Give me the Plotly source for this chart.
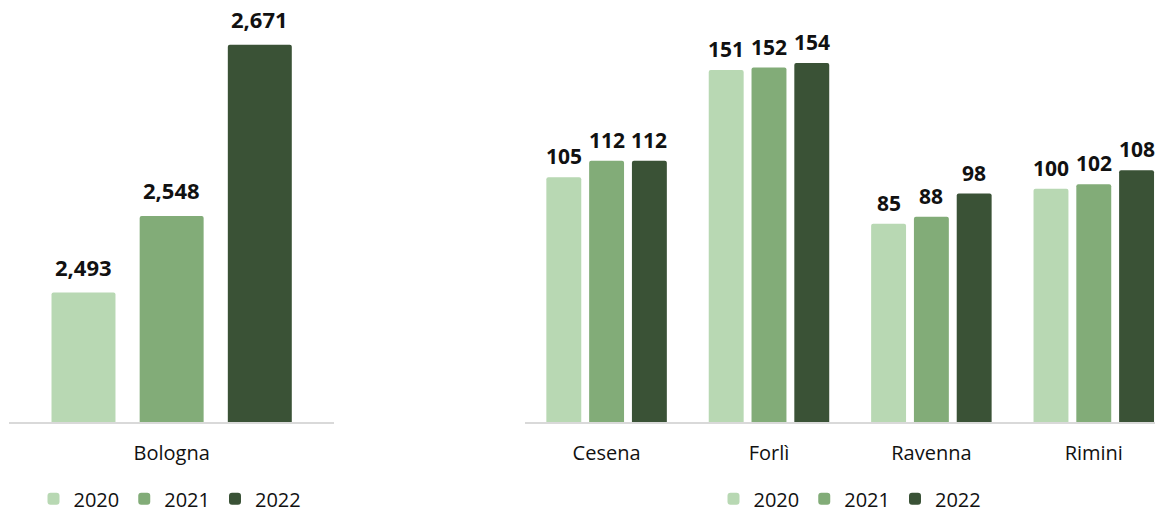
import plotly.graph_objects as go

years = ["2020", "2021", "2022"]
colors = ["#B8D8B3", "#82AC78", "#3A5236"]

big_city = ["Bologna"]
big_values = {
    "2020": [2493],
    "2021": [2548],
    "2022": [2671],
}

cities = ["Cesena", "Forlì", "Ravenna", "Rimini"]
values = {
    "2020": [105, 151, 85, 100],
    "2021": [112, 152, 88, 102],
    "2022": [112, 154, 98, 108],
}

FONT = "Open Sans, DejaVu Sans, sans-serif"

# bar geometry in category units, and pixels per category unit
left_w, left_step, left_px = 0.197, 0.2715, 324.7
right_w, right_step, right_px = 0.215, 0.2635, 162.4

fig = go.Figure()
annotations = []

for i, yr in enumerate(years):
    fig.add_trace(go.Bar(
        x=big_city, y=big_values[yr], name=yr,
        marker=dict(color=colors[i], cornerradius=2, line=dict(width=0)),
        width=left_w, offset=(i - 1) * left_step - left_w / 2,
        xaxis="x", yaxis="y", legend="legend",
    ))
    for c, v in zip(big_city, big_values[yr]):
        annotations.append(dict(
            x=c, y=v, xref="x", yref="y", text=f"<b>{v:,}</b>", showarrow=False,
            xshift=(i - 1) * left_step * left_px, yanchor="bottom", yshift=9,
            font=dict(family=FONT, size=22, color="#111111"),
        ))

for i, yr in enumerate(years):
    fig.add_trace(go.Bar(
        x=cities, y=values[yr], name=yr,
        marker=dict(color=colors[i], cornerradius=2, line=dict(width=0)),
        width=right_w, offset=(i - 1) * right_step - right_w / 2,
        xaxis="x2", yaxis="y2", legend="legend2",
    ))
    for c, v in zip(cities, values[yr]):
        annotations.append(dict(
            x=c, y=v, xref="x2", yref="y2", text=f"<b>{v}</b>", showarrow=False,
            xshift=(i - 1) * right_step * right_px, yanchor="bottom", yshift=5,
            font=dict(family=FONT, size=21, color="#111111"),
        ))

axis_x = dict(
    showline=True, linecolor="#D9D9D9", linewidth=2, showgrid=False,
    ticks="", ticklabelstandoff=12, zeroline=False, fixedrange=True,
    tickfont=dict(family=FONT, size=20, color="#111111"),
)
axis_y = dict(visible=False, showgrid=False, zeroline=False, fixedrange=True)

legend_style = dict(
    orientation="h", xanchor="center",
    yref="container", y=0.02, yanchor="middle",
    font=dict(family=FONT, size=20, color="#111111"),
    tracegroupgap=0,
)

fig.update_layout(
    width=1155, height=509,
    margin=dict(l=0, r=0, t=10, b=87),
    plot_bgcolor="white", paper_bgcolor="white",
    barmode="overlay",
    xaxis=dict(axis_x, domain=[9.3 / 1155, 334 / 1155], range=[-0.5, 0.5]),
    yaxis=dict(axis_y, range=[2400, 2696], anchor="x"),
    xaxis2=dict(axis_x, domain=[525.4 / 1155, 1.0], range=[-0.5, 3.377], anchor="y2"),
    yaxis2=dict(axis_y, range=[0, 176.7], anchor="x2"),
    legend=dict(legend_style, x=170 / 1155),
    legend2=dict(legend_style, x=850 / 1155),
    annotations=annotations,
)

fig.write_html(
    "out.html",
    config={"displayModeBar": False},
    post_script="document.body.style.margin='0';",
)
